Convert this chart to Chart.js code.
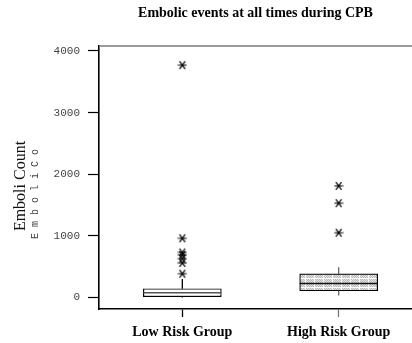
<!DOCTYPE html>
<html><head><meta charset="utf-8">
<script src="https://cdn.jsdelivr.net/npm/chart.js@4/dist/chart.umd.min.js"></script>
<style>html,body{margin:0;padding:0;background:#fff;overflow:hidden}#wrap{width:412px;height:343px}canvas{display:block}</style>
</head><body><div id="wrap"><canvas id="c" width="412" height="343"></canvas></div>
<script>
const categories = ['Low Risk Group', 'High Risk Group'];
const whiskerLow = [0, 32];
const q1 = [11, 108];
const median = [76, 226];
const q3 = [141, 382];
const whiskerHigh = [298, 489];
const outliersLow = [3770, 960, 730, 690, 630, 560, 385];
const outliersHigh = [1810, 1530, 1050];
const yTicks = [0, 1000, 2000, 3000, 4000];
const titleText = 'Embolic events at all times during CPB';
const yTitle = 'Emboli Count';
const yTitle2 = 'E m b o l i C o';

// pattern for hatched box
const pc = document.createElement('canvas'); pc.width = 9; pc.height = 9;
const px = pc.getContext('2d');
px.fillStyle = '#e4e4e4'; px.fillRect(0,0,9,9);
px.fillStyle = '#b8b8b8';
for (let i=0;i<9;i++) for (let j=0;j<9;j++) if ((i+j)%2===0) px.fillRect(i,j,1,1);
px.fillStyle = '#ffffff'; px.fillRect(8,0,1,9); px.fillRect(0,8,9,1);
const pattern = px.createPattern(pc, 'repeat');

// asterisk marker
const mc = document.createElement('canvas'); mc.width = 10; mc.height = 10;
const mx = mc.getContext('2d');
mx.strokeStyle = '#000'; mx.lineWidth = 1.2;
mx.beginPath();
mx.moveTo(0.5,5); mx.lineTo(9.5,5);
mx.moveTo(2.2,1.2); mx.lineTo(7.8,8.8);
mx.moveTo(7.8,1.2); mx.lineTo(2.2,8.8);
mx.stroke();
mx.fillStyle = '#000'; mx.fillRect(4,4,2,2);

const halfW = 0.249;
const datasets = [];
datasets.push({
  type: 'bar',
  data: categories.map((c,i)=>({x:i+1, y:[q1[i], q3[i]]})),
  backgroundColor: ['#ffffff', pattern],
  borderColor: '#000', borderWidth: 1.2, borderSkipped: false,
  barThickness: 78, grouped: false, order: 2
});
categories.forEach((c,i)=>{
  const col = i===0 ? '#000' : '#666';
  datasets.push({type:'line', data:[{x:i+1,y:q3[i]},{x:i+1,y:whiskerHigh[i]}], borderColor: col, borderWidth: 1.3, pointRadius:0, order:1});
  datasets.push({type:'line', data:[{x:i+1,y:whiskerLow[i]},{x:i+1,y:q1[i]}], borderColor: col, borderWidth: 1.3, pointRadius:0, order:1});
  datasets.push({type:'line', data:[{x:i+1-halfW,y:median[i]},{x:i+1+halfW,y:median[i]}], borderColor: i===0?'#555':'#111', borderWidth: 1.3, pointRadius:0, order:0});
});
datasets.push({type:'line', showLine:false, data: outliersLow.map(v=>({x:1,y:v})), pointStyle: mc, pointRadius:5, order:0});
datasets.push({type:'line', showLine:false, data: outliersHigh.map(v=>({x:2,y:v})), pointStyle: mc, pointRadius:5, order:0});

const extras = {
  id: 'extras',
  afterDraw(chart){
    const {ctx, chartArea:a} = chart;
    ctx.save();
    ctx.strokeStyle = '#7a7a7a'; ctx.lineWidth = 1.6;
    ctx.beginPath(); ctx.moveTo(a.left, a.top); ctx.lineTo(a.right, a.top); ctx.stroke();
    ctx.fillStyle = '#111';
    ctx.translate(21, 186); ctx.rotate(-Math.PI/2);
    ctx.font = '16px "Liberation Serif"'; ctx.textAlign = 'center'; ctx.textBaseline = 'middle';
    ctx.fillText(yTitle, 0, 0);
    ctx.font = '10px "Liberation Mono"'; ctx.fillStyle = '#444';
    ctx.fillText(yTitle2, -8, 14);
    ctx.restore();
  }
};

new Chart(document.getElementById('c'), {
  type: 'bar',
  data: { datasets },
  plugins: [extras],
  options: {
    responsive: false, animation: false, devicePixelRatio: 1,
    layout: { autoPadding: false, padding: 0 },
    plugins: {
      legend: { display: false }, tooltip: { enabled: false },
      title: { display: true, text: titleText, fullSize: false, color: '#000',
        font: { family: '"Liberation Serif"', size: 14, weight: 'bold' },
        padding: { top: 5, bottom: 24.2 } }
    },
    scales: {
      x: { type: 'linear', min: 0.467, max: 2.469, offset: false,
        afterBuildTicks: s => { s.ticks = categories.map((c,i)=>({value:i+1})); },
        afterFit: s => { s.height = 34; s.paddingLeft = 0; s.paddingRight = 0; },
        ticks: { callback: v => categories[Math.round(v)-1], color: '#000', padding: 7,
          font: { family: '"Liberation Serif"', size: 14, weight: 'bold' }, maxRotation: 0, autoSkip: false },
        grid: { drawOnChartArea: false, offset: false, tickLength: 8, tickColor: ['#000','#777'], tickWidth: 1.3 },
        border: { color: '#000', width: 1.6 }
      },
      y: { type: 'linear', min: -188, max: 4081,
        afterBuildTicks: s => { s.ticks = yTicks.map(v=>({value:v})); },
        afterFit: s => { s.width = 99; },
        ticks: { callback: v => String(v), color: '#444', padding: 8, font: { family: '"Liberation Mono"', size: 11 } },
        grid: { drawOnChartArea: false, tickLength: 11, tickColor: '#000', tickWidth: 1.2 },
        border: { color: '#000', width: 1.6 }
      }
    }
  }
});
</script></body></html>
